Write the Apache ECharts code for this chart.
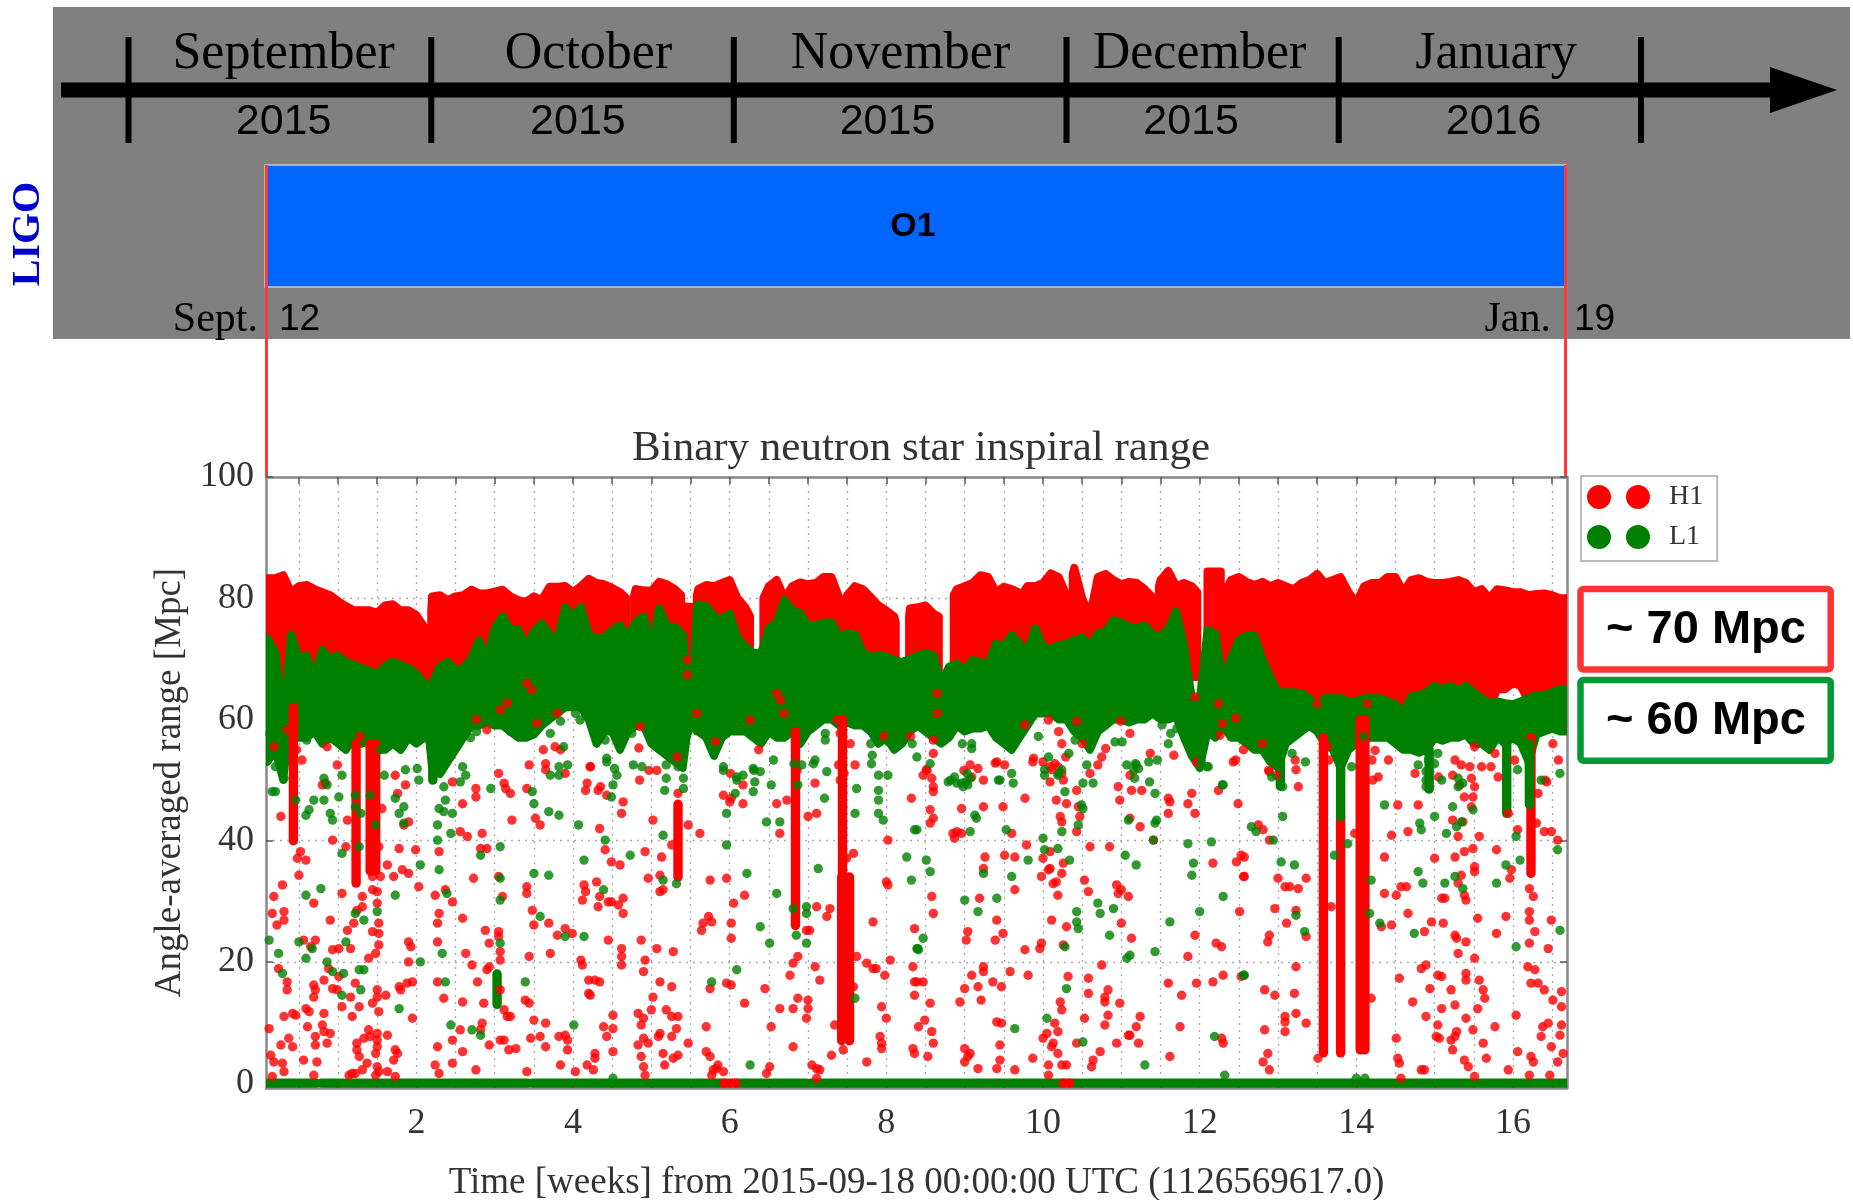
<!DOCTYPE html>
<html><head><meta charset="utf-8">
<script src="https://cdn.jsdelivr.net/npm/echarts@6/dist/echarts.min.js"></script>
<style>html,body{margin:0;padding:0;background:#fff}#chart{width:1853px;height:1200px}</style>
</head><body><div id="chart"></div>
<script>
// ---------------- data ----------------
const X_MIN = 0.08, X_MAX = 16.69, Y_MIN = -0.8, Y_MAX = 100;
const X_LABELS = [2, 4, 6, 8, 10, 12, 14, 16];
const X_TICKS = [0.5,1,1.5,2,2.5,3,3.5,4,4.5,5,5.5,6,6.5,7,7.5,8,8.5,9,9.5,10,10.5,11,11.5,12,12.5,13,13.5,14,14.5,15,15.5,16,16.5];
const Y_TICKS = [0, 20, 40, 60, 80, 100];
const MONTHS = ['September', 'October', 'November', 'December', 'January'];
const YEARS = ['2015', '2015', '2015', '2015', '2016'];

// dense band of H1 points: [week, lower Mpc, upper Mpc]; null = break
const H1_BAND = [
[0.08,66,83.0],[0.1,66,83.3],[0.2,62,83.3],[0.3,58,83.8],[0.4,62,81.0],[0.5,66,82.0],[0.6,66,82.2],[0.7,65,81.5],[0.8,66,81.0],[0.9,66,80.5],[1.0,66,79.5],[1.1,66,78.7],[1.2,66,78.0],[1.3,66,78.0],[1.4,66,78.0],[1.5,66,77.6],[1.6,66,78.8],[1.7,66,79.0],[1.8,66,78.0],[1.9,66,78.0],[2.0,66,77.2],[2.1,66,75.3],[2.13,67,73],
null,
[2.19,66,78],[2.2,66,80.3],[2.3,66,80.5],[2.4,66,79.7],[2.5,66,80.3],[2.6,66,80.5],[2.7,67,81.4],[2.8,67,80.8],[2.9,67,80.8],[3.0,67,81.1],[3.1,68,81.4],[3.2,68,80.3],[3.3,68,79.7],[3.4,67,79.4],[3.5,68,80.3],[3.6,68,79.7],[3.7,68,81.9],[3.8,68,81.9],[3.9,68,82],[4.0,68,81],[4.1,68,82],[4.2,68,83.2],[4.3,67,82.5],[4.4,67,82.3],[4.5,67,81.7],[4.6,67,81.0],[4.68,67,80],
null,
[4.78,67,80.5],[4.8,67,81.5],[4.9,67,81.3],[5.0,67,81.2],[5.1,67,82.7],[5.2,67,82.3],[5.3,67,81.5],[5.38,67,80.5],
null,
[5.43,67,78.6],[5.51,67,78.6],
null,
[5.58,66,80.5],[5.6,66,81.5],[5.7,66,82.2],[5.8,66,82.0],[5.9,66,82.5],[6.0,66,83.0],[6.1,66,80.0],[6.2,66,78.5],[6.26,68,77],
null,
[6.43,68,80],[6.5,67,82],[6.6,67,83],[6.7,67,80],[6.8,67,82],[6.9,67,82.6],[7.0,67,82.3],[7.1,67,82.5],[7.2,67,83.5],[7.3,67,83.5],[7.4,67,80],[7.47,67,78],[7.5,67,80.5],[7.6,67,82],[7.7,67,81.5],[7.8,67,80.2],[7.9,67,78.8],[8.0,67,78],[8.1,67,77],[8.12,67,76],
null,
[8.29,68,77],[8.3,68,78.3],[8.4,68,78.5],[8.5,68,78.8],[8.6,68,77.5],[8.67,68,77],
null,
[8.86,67,80.5],[8.9,67,81.5],[9.0,67,82],[9.1,67,82.5],[9.2,67,83.8],[9.3,67,83.5],[9.4,67,81],[9.5,67,81.9],[9.6,67,81.5],[9.68,67,81],
null,
[9.75,67,81],[9.8,67,82],[9.9,67,82],[10.0,67,82.5],[10.1,67,84.1],[10.2,67,83.5],[10.3,67,80.5],[10.34,67,80],
null,
[10.38,67,84],[10.4,67,85],[10.5,67,80],[10.6,67,77],[10.7,67,83.5],[10.8,67,84],[10.9,67,83],[11.0,67,82.3],[11.1,67,82.7],[11.2,67,82.5],[11.3,67,81.5],[11.41,67,80],
null,
[11.48,67,82],[11.5,67,83],[11.6,67,84.5],[11.7,67,82],[11.8,67,82.5],[11.9,67,82],[11.97,67,81],
null,
[12.1,67,84.4],[12.27,67,84.4],
null,
[12.36,66,82],[12.4,66,83],[12.5,66,83.5],[12.6,66,82.7],[12.7,66,82.2],[12.8,66,82.7],[12.9,65,82],[13.0,64,82.5],[13.1,64,82],[13.2,64,81.5],[13.3,63,82.5],[13.4,62,83],[13.5,61,84],[13.6,62.5,82.5],[13.7,62,83],[13.8,62,83.5],[13.9,62,81],[13.96,62,80],
null,
[14.03,62,80],[14.1,62,82],[14.2,61.5,82.5],[14.3,62,82.5],[14.4,63,83.5],[14.5,62,83.5],[14.6,61,81],[14.7,64,83],[14.8,65,83.3],[14.9,65,82.7],[15.0,64.5,82.5],[15.1,64,82.5],[15.2,65,82.7],[15.3,66,83],[15.4,65,82.5],[15.5,64,81],[15.6,63,81.5],[15.7,62,80],[15.8,65,81.5],[15.9,65,81.3],[16.0,66,81],[16.1,65.5,81],[16.2,63,80.5],[16.3,62,80.7],[16.4,63,80.8],[16.5,64,80.5],[16.6,64,80],[16.69,64,80]
];

// dense band of L1 points: [week, lower Mpc, upper Mpc]
const L1_BAND = [
[0.08,53,73.5],[0.1,53,73.3],[0.2,55,71],[0.3,50,60],[0.4,62,74.0],[0.5,57,70],[0.6,57,70.5],[0.7,58,67],[0.8,56,71.5],[0.9,57,70],[1.0,56,70.5],[1.1,55,69.5],[1.2,57,69],[1.3,56,68.5],[1.4,56.5,68],[1.5,55,67.5],[1.6,55,68.8],[1.7,56,69.5],[1.8,55,69],[1.9,57,68.5],[2.0,56,67.5],[2.1,57,66],[2.14,58,64],[2.17,56,61],
[2.2,52,66],[2.3,51,68.7],[2.4,53,69.5],[2.5,55,68],[2.6,57,68.5],[2.7,59,70],[2.8,59,73],[2.9,59.5,70],[3.0,59,75],[3.1,59,77],[3.2,58,74.7],[3.3,57,74.8],[3.4,57,72],[3.5,57.5,74.5],[3.6,59,75.8],[3.7,60,74],[3.8,61,73],[3.9,62,78.5],[4.0,62,77],[4.1,62,78.5],[4.2,60,74],[4.3,56,73.3],[4.4,58,73.6],[4.5,58,74.7],[4.6,55,75.5],[4.7,58,73.5],[4.8,59,76],[4.9,59,77],[5.0,56,72],[5.1,55,78.3],[5.2,54,75.3],[5.3,53,75.3],[5.4,52,74],[5.45,57,68],[5.52,60,64],[5.58,58,78],[5.6,58,79],[5.7,57,78.7],[5.8,54,77],[5.9,57,76.5],[6.0,58,77.5],[6.1,58,73.5],[6.2,58,72],[6.3,57,71],[6.4,56,70.9],[6.5,58,75],[6.6,57,76],[6.7,57,79.7],[6.8,58,78],[6.9,56,77.5],[7.0,58,75.5],[7.1,59,75.5],[7.2,60,76],[7.3,60,76],[7.4,59,73.6],[7.5,59.5,74.2],[7.6,59,74],[7.7,59,71],[7.8,58,70.4],[7.9,56,70.5],[8.0,57,70.4],[8.1,55,69.8],[8.2,56,69.5],[8.3,58,70],[8.4,59,70.5],[8.5,58,71],[8.6,57,70.5],[8.7,56,66],[8.8,57,68.7],[8.9,59,69.2],[9.0,58,68],[9.1,58.5,69.8],[9.2,58.5,69.5],[9.3,59,69],[9.4,57,72.5],[9.5,56,72],[9.6,55,73.9],[9.7,57,72.5],[9.8,59,71],[9.9,61,75],[10.0,61,72],[10.1,61,71.5],[10.2,60,72.3],[10.3,60,72.5],[10.4,58,73.1],[10.5,57,73.5],[10.6,55,72],[10.7,58,74.2],[10.8,59,74.5],[10.9,60,76.4],[11.0,60,76],[11.1,59.5,75.3],[11.2,60,75],[11.3,60,75.5],[11.4,61,74],[11.5,60,73.6],[11.6,60,75],[11.7,60.5,77.8],[11.8,57,72.3],[11.9,54,63.5],[12.0,52,63],[12.1,58,74.7],[12.2,57,74.2],[12.3,59,66],[12.4,57,70],[12.5,57,73.1],[12.6,56,73.8],[12.7,55,73.8],[12.8,55,70],[12.9,53,67],[13.0,52,64.5],[13.1,56,64.5],[13.2,57,64.5],[13.3,58,64.3],[13.4,59,63.5],[13.5,58,62],[13.6,56,63.5],[13.7,55,63.5],[13.8,52,63.5],[13.9,55,63],[14.0,56,63],[14.1,57,63.5],[14.2,57,63.5],[14.3,57,63.5],[14.4,57,63],[14.5,56,62.5],[14.6,55,61],[14.7,55,63.8],[14.8,54.5,64],[14.9,55,64.5],[15.0,57,65.5],[15.1,56.5,65],[15.2,57,65.5],[15.3,57,64.8],[15.4,57.5,65.5],[15.5,56,64.5],[15.6,56,63.5],[15.7,55,62.7],[15.8,57,63],[15.9,56,62.7],[16.0,57,62.5],[16.1,56,63],[16.2,53,63.5],[16.3,57.5,64],[16.4,58,64],[16.5,58.5,64.5],[16.6,58,65],[16.69,58,65]
];

// vertical streaks of points: [week, lower Mpc, upper Mpc]
const H1_STREAKS = [[0.43,40,62],[1.23,33,56],[1.41,35,56],[1.48,35,56],[5.34,34,46],[6.84,26,58],[7.44,34,60],[7.43,7,34],[7.53,7,34],[13.58,5,57],[13.80,5,44],[14.05,5.5,60],[14.11,5.5,60],[16.23,34.6,57]];
const L1_STREAKS = [[13.80,44,56],[15.92,44.5,56],[16.21,46,56],[13.03,49,55],[2.21,50,55],[3.03,13,18],[14.93,48.5,55]];

// runs of points sitting at zero range: [from week, to week, Mpc]
const L1_ZERO = [[0.08,0.72,0],[0.79,3.42,0],[3.48,5.93,0],[6.08,6.98,0],[7.04,10.26,0],[10.34,10.53,0],[10.57,16.69,0]];
const H1_ZERO = [[5.93,6.08,0],[10.26,10.34,0]];

// isolated H1 points [week, Mpc]
const H1_DOTS = [
[0.54,53.3],[0.99,52.5],[1.73,50.8],[1.86,49.2],[1.76,47.8],[1.56,45.3],[1.84,42.6],[1.90,43.1],[1.99,38.5],[1.78,38.7],[1.52,39],[2.46,49.7],[2.59,46.1],[2.76,48.6],[2.76,47.2],[2.84,41.2],[2.56,41.5],[2.65,40.7],[2.82,38.7],[2.90,38.7],[3.05,51.1],[3.12,49.5],[3.14,48.6],[3.20,47.8],[3.22,43.4],[3.41,48.6],[3.44,52.5],[3.52,43.7],[3.58,42.6],[3.65,52.7],[3.65,51.7],[4.16,48.3],[4.18,49.5],[0.80,49.2],[0.84,49.5],[0.27,44],[0.48,37.1],[0.52,38.2],[0.59,36.8],[0.93,40.1],[1.12,43.4],[1.10,39],
[0.18,30.8],[0.29,32.7],[0.16,28],[0.22,26.1],[0.31,28.3],[0.31,26.9],[0.5,34.3],[0.69,29.7],[0.56,23.6],[0.71,23.6],[0.65,22.5],[0.90,26.9],[0.93,22],[1.05,31.3],[1.01,22.2],[1.16,22.2],[1.12,25.2],[1.20,26.4],[1.31,30.8],[1.24,28.5],[1.31,29.1],[1.44,34.1],[1.44,31.9],[1.44,25],[1.50,31.6],[1.50,29.7],[1.52,26.4],[1.52,24.7],[1.52,22.8],[1.48,21.4],[1.39,20.6],[1.54,34.1],[1.63,36],[1.71,34.1],[1.82,35.2],[1.90,34.6],[2.03,32.4],[1.90,23.3],[1.93,22.5],[1.90,20],[2.24,31],[2.29,28],[2.27,26.4],[2.27,23.3],[2.29,38.2],[2.37,31.9],[2.46,29.9],[2.59,27.2],[2.73,33.8],[2.88,25.2],[2.93,23.1],[3.05,25],[3.05,24.2],[3.07,21.7],[3.07,20.3],[3.05,34.1],[3.10,30.8],[3.41,32.4],[3.41,31.3],[3.48,28.5],[3.50,26.1],[3.69,26.4],[3.80,24.4],[3.90,25.5],[3.99,24.7],[4.14,32.7],[4.16,31.6],[4.12,30.2],[4.10,20.3],[4.12,19.5],[3.44,20.9],[3.71,21.4],[2.63,21.4],[2.93,19.2],[2.90,18.7],[2.71,19.5],
[0.24,18.9],[0.35,16.7],[0.35,15.4],[0.69,16.2],[0.71,15.4],[0.69,14.2],[0.59,12.3],[0.63,11.8],[0.31,11],[0.42,11.5],[0.46,11.2],[0.12,9],[0.61,9.3],[0.80,9.6],[0.82,11.5],[0.71,7.7],[0.71,6.3],[0.82,8.5],[0.90,8.2],[0.86,6.6],[0.37,7.4],[0.42,6],[0.27,6.3],[0.14,4.6],[0.18,3.5],[0.29,3.3],[0.31,1.9],[0.56,3.8],[0.73,3.5],[0.69,1.3],[0.16,1.1],[0.82,17],[0.88,18.9],[1.01,17.6],[0.93,15.6],[0.99,15.4],[1.16,14.2],[1.05,12.6],[1.27,12.6],[1.18,11],[1.22,16.5],[1.44,13.2],[1.50,15.4],[1.50,14.2],[1.61,14.5],[1.52,11.8],[1.33,7.4],[1.39,8.8],[1.41,7.7],[1.50,8.2],[1.50,7.1],[1.50,6],[1.48,4.9],[1.50,2.7],[1.48,1.3],[1.24,6.6],[1.24,5.5],[1.27,4.4],[1.37,3.3],[1.31,2.2],[1.22,1.6],[1.52,1.9],[1.63,7.9],[1.73,5.5],[1.76,4.9],[1.71,3.8],[1.63,1.9],[1.73,1.1],[1.14,1.3],[1.18,1.6],[1.78,15.9],[1.80,15.4],[1.88,16.5],[1.95,16.7],[1.95,10.7],[2.27,16.7],[2.35,14],[2.27,6],[2.24,3],[2.46,7.1],[2.46,3.3],[2.29,1.6],[2.59,13.4],[2.56,8.8],[2.59,5.2],[2.78,16.7],[2.86,13.2],[2.84,9.9],[2.82,8.8],[2.76,2.2],[2.93,6.3],[3.07,7.1],[3.12,7.1],[3.18,5.5],[3.27,5.7],[3.16,11],[3.20,11],[3.12,12.1],[3.07,15.4],[3.39,13.7],[3.44,13.2],[3.50,10.4],[3.65,9.9],[3.46,7.4],[3.58,7.7],[3.65,6],[3.82,7.7],[3.90,7.9],[3.93,7.1],[3.93,5.5],[3.84,3],[4.03,1.9],[4.18,3],[3.41,1.9],[4.20,17],[4.20,14.8],
[4.22,52.2],[4.32,48.3],[4.43,47.5],[4.64,46.4],[4.62,44.5],[4.34,42],[4.41,38.5],[4.49,36.5],[4.60,36],[4.85,50],[5.02,43.4],[4.92,38.2],[5.13,37.3],[4.96,33.8],[5.11,34.3],[5.11,31.6],[5.15,31.9],[5.26,39.3],[5.34,47.8],[5.47,42.6],[5.62,41.2],[4.30,33.2],[4.34,30.8],[4.32,29.1],[4.45,29.9],[4.49,29.9],[4.58,29.4],[4.64,30.5],[4.64,28],[4.45,23.6],[4.62,22.2],[4.62,20.9],[4.62,19.5],[4.87,23.6],[4.92,20.3],[4.90,18.4],[5.07,22.2],[5.28,21.7],[4.28,17],[4.34,16.7],[4.22,14.5],[5.11,16.7],[5.26,15.9],[5.02,14.2],[5.00,12.1],[5.19,12.1],[5.26,11],[5.34,11],[4.83,11.5],[4.90,10.7],[4.87,9.6],[4.90,7.4],[4.51,11.2],[4.51,9],[4.39,9.3],[4.43,7.7],[4.83,6.3],[4.96,6.6],[5.11,8.2],[5.09,7.7],[5.26,7.7],[5.32,9],[5.47,6.6],[4.87,4.4],[4.90,2.7],[4.92,1.3],[5.15,4.9],[5.17,3],[5.28,4.1],[5.34,4.6],[4.28,4.9],[4.28,4.1],[4.26,2.2],[4.51,5.2],[5.70,9.3],[5.70,5.2],[5.75,4.4],[5.79,2.2],[5.85,3],[5.83,2.4],[5.77,1.3],[5.92,1.9],[5.75,15.6],[5.73,27.5],[5.66,26.4],[5.64,25.2],[5.77,26.6],[5.75,33.5],[5.96,33.8],[5.92,47.5],[6.02,47],[6.00,46.4],[6.17,46.1],[6.17,49.2],[6.19,31],[6.05,29.7],[6.02,26.4],[6.02,23.9],[5.96,16.5],[6.02,16.2],[6.19,13.2],[6.45,15.6],[6.53,9.3],[6.60,46.1],[6.64,41.2],[6.73,46.7],[6.51,2.7],[6.47,1.6],[6.64,12.3],[6.81,12.3],[6.77,17.8],[6.81,19.8],[6.87,20.9],[6.87,14],[7.00,12.3],[6.98,10.7],[6.98,25.2],[7.02,25.2],[7.00,13.7],[7.09,19.2],[7.15,17],[7.00,44],[7.11,44.5],[7.09,49.5],[7.11,29.1],[7.24,27.5],[7.28,28.8],[7.34,9.6],[7.30,4.6],[7.45,5.5],[6.81,6],[7.05,3],[7.11,2.4],[7.15,2.2],[7.11,0.8],[7.58,37.9],[7.49,37.1],[7.62,20.9],[7.58,15.9],[7.75,19.8],[7.83,18.9],[7.87,18.9],[7.98,17.8],[7.83,26.6],[8.00,33.2],[8.02,32.7],[8.02,40.1],[8.05,20.3],[7.94,12.6],[8.00,10.7],[7.92,7.7],[7.94,6.6],[7.94,5.7],[7.75,3.5],[8.32,47],[8.36,25.5],[8.34,19.2],[8.36,16.7],[8.36,14.5],[8.34,5.7],[8.36,4.9],[7.60,52.5],[7.41,50],[7.39,52.5],
[8.47,50.8],[8.51,51.7],[8.58,50.3],[8.60,48.9],[8.60,48.1],[8.56,45.1],[8.60,43.7],[8.56,42.9],[8.85,41.2],[8.90,41.5],[8.96,41.2],[8.87,40.4],[8.96,45.3],[9.07,52.5],[9.17,51.9],[9.09,50.5],[9.24,50],[9.24,45.6],[9.41,53],[9.51,52.5],[9.49,45.6],[9.60,41.2],[9.77,47],[9.87,53],[10.0,53],[10.09,52.2],[10.15,52.7],[10.19,52.2],[10.24,51.1],[10.26,50],[10.11,51.7],[10.09,49.7],[10.17,46.7],[10.30,46.1],[10.43,48.3],[10.45,45.6],[10.47,44],[10.43,41.5],[10.22,44],[10.24,43.1],[10.60,51.1],[10.70,52.5],[10.96,48.9],[10.98,46.7],[11.11,50.8],[11.13,48.3],[11.26,48.3],[11.11,43.7],[11.24,42.3],[11.60,47],[11.62,46.4],[11.60,44.5],[11.90,47.8],[11.85,46.1],[11.94,44.5],[11.96,53],[12.24,48.3],[12.49,46.1],[12.43,53],[11.41,40.1],[10.60,39],[10.85,39],[9.26,37.3],[9.24,35.4],[9.51,37.6],[9.64,37.3],[9.79,39.3],[10.0,37.1],[10.09,38.2],[10.26,36.3],[10.09,35.4],[10.07,35.2],[9.98,34.1],[10.24,34.6],[10.13,32.9],[10.17,33.2],[10.19,31],[10.53,33.5],[10.58,31.6],[10.94,32.7],[10.96,31.3],[11.0,31.9],[11.09,30.8],[12.17,36.3],[12.47,36.5],[12.53,37.6],[12.56,34.1],[8.58,30.8],[8.60,28],[9.19,30.5],[9.41,26.9],[9.49,24.7],[9.39,23.6],[9.04,25],[9.02,23.6],[9.64,31.9],[10.11,26.9],[10.30,25.8],[9.77,22],[9.96,22.2],[9.98,23.1],[10.26,22.8],[11.13,23.9],[11.0,26.4],[11.94,24.4],[11.85,20.9],[12.21,23.1],[12.28,22.5],[12.51,28.3],[10.75,19.5],[9.24,19.2],[9.24,18.4],[9.09,17.8],[9.36,16.7],[9.47,15.9],[9.58,18.4],[9.81,17.8],[9.0,15.6],[9.17,15.9],[9.21,13.7],[8.94,13.4],[8.47,16.7],[8.39,16.7],[8.56,13.2],[8.49,10.4],[8.41,9.3],[8.58,8.5],[8.60,6.6],[8.53,4.4],[9.0,5.7],[9.07,4.9],[9.04,4.4],[9.0,3.5],[9.17,2.4],[9.41,10.1],[9.47,9.9],[9.45,6.3],[9.45,3.8],[9.41,2.4],[9.64,2.2],[9.87,4.1],[10.32,17.6],[10.58,17.3],[10.83,15.4],[10.58,14.8],[10.79,14.2],[10.79,13.4],[10.22,13.4],[10.24,12.1],[10.53,10.7],[10.83,11.2],[10.79,9.6],[10.15,9.9],[10.19,8.5],[10.05,8.2],[10.0,7.4],[10.13,6.6],[10.11,6],[10.19,4.9],[10.43,6.6],[10.07,3],[10.24,3],[10.30,3],[10.07,1.3],[10.73,5.2],[10.64,3.8],[10.62,2.7],[10.94,6.6],[10.98,13.2],[11.09,7.9],[11.11,7.9],[11.22,6.6],[11.19,9.3],[11.24,11],[11.60,16.5],[11.77,14.5],[11.75,9.3],[11.96,16.5],[12.17,16.7],[12.30,17.8],[12.28,7.4],[12.30,6.6],[11.62,4.4],[12.53,17.6],
[12.89,51.4],[12.98,50.8],[13.23,51.7],[13.26,48.9],[12.75,42.6],[12.81,41.8],[12.89,40.1],[12.57,37.3],[12.57,34.1],[13.0,33.8],[13.09,32.4],[13.15,32.4],[13.26,32.1],[13.36,33.8],[12.96,28.8],[13.23,28.5],[13.11,26.4],[12.89,24.4],[12.87,23.3],[13.36,24.2],[13.23,19.2],[12.83,15.4],[12.96,14.5],[13.21,14.8],[13.23,11.5],[13.09,11],[13.09,10.1],[13.36,9.9],[13.09,8.5],[12.83,8.8],[12.87,4.9],[12.81,3.5],[12.89,2.2],[13.51,4.1],[13.68,29.1],[13.98,41.2],[14.21,50],[14.36,37.3],[14.45,40.9],[14.53,45.9],[14.79,45.9],[14.66,41.5],[14.57,32.4],[14.64,32.4],[14.51,31],[14.36,31.3],[14.45,26.1],[14.32,25.8],[14.66,28],[14.87,25],[14.96,26.6],[15.11,26.4],[15.0,37.1],[15.13,30.5],[15.26,37.3],[15.30,40.7],[15.23,43.4],[15.36,43.1],[15.38,47.2],[15.49,47.2],[15.51,48.9],[15.47,45.6],[15.32,49.2],[15.47,50.3],[15.23,50.8],[15.34,52.5],[15.45,52.2],[15.60,52.2],[15.57,40.7],[15.38,38.2],[15.49,38.7],[15.51,35.7],[15.51,34.9],[15.34,34.3],[15.30,33],[15.38,31],[15.40,30.2],[15.09,30.5],[15.72,52.2],[15.79,38.5],[15.94,44.5],[15.98,35.2],[15.96,33.8],[16.06,41.8],[16.30,42.9],[16.32,47.8],[16.40,41.5],[16.49,41.5],[16.43,49.7],[16.57,40.1],[16.21,32.1],[16.26,30.8],[16.21,28.3],[16.21,26.9],[16.28,25],[16.21,23.1],[16.45,22.2],[16.49,26.9],[15.55,27.2],[15.26,24.4],[15.28,23.9],[15.40,23.3],[15.30,21.4],[15.51,20.6],[15.79,24.7],[15.91,27.5],[14.89,19.5],[14.83,18.9],[15.04,17.8],[15.09,17.6],[14.94,15.6],[14.55,17.3],[15.21,15.4],[15.40,18.1],[15.40,17],[15.57,17],[15.62,15.4],[15.64,14],[15.55,12.3],[15.26,12.9],[15.09,12.3],[14.89,11],[15.04,9.6],[15.02,7.7],[15.06,7.4],[15.26,7.7],[15.28,8.5],[15.23,5.5],[15.21,7.1],[15.40,10.7],[15.49,8.8],[15.62,6.6],[15.66,4.1],[15.38,3.8],[15.43,2.7],[15.51,1.1],[14.87,2.2],[14.83,2.2],[14.51,7.4],[14.53,4.1],[14.55,3.3],[14.57,0.8],[14.72,13.4],[14.19,14],[15.77,9.3],[15.94,2.2],[16.04,11.2],[16.06,5.2],[16.19,19.2],[16.28,18.7],[16.23,16.5],[16.32,16.5],[16.40,15.4],[16.51,13.7],[16.62,15.1],[16.62,12.6],[16.45,9.9],[16.38,9.3],[16.36,7.7],[16.49,6],[16.60,7.9],[16.62,9.6],[16.64,4.9],[16.57,3.5],[16.47,1.3],[16.21,1.3],[16.23,4.4],[16.26,3.5],
[0.18,55.5],[0.35,58.3],[0.47,55],[0.86,55.5],[1.28,57.2],[1.45,55.5],[2.77,60],[2.9,58.3],[3.07,61.6],[3.16,62.7],[3.41,66],[3.47,64.9],[3.54,59.4],[3.62,55],[3.8,61],[3.84,55],
[3.77,55.5],[3.90,51.1],[4.22,52.2],[4.35,48.9],[4.86,58.8],[4.84,55.3],[4.97,51.6],[5.07,51.6],[5.33,53.8],[5.46,69.8],[5.46,67.4],[5.58,61],[5.82,56.3],[6.01,51.1],[6.26,59.9],[6.37,55],[6.60,64.3],[6.65,63.2],[6.69,61],[6.84,56.6],[6.84,53.9],[6.86,51.6],[7.37,59.9],[7.41,57.7],[7.54,56],[7.46,51.1],[7.97,57.2],[8.31,57.2],[8.52,51.6],[8.60,56.6],[8.60,54.4],[8.65,61],[8.65,64.3],[8.99,51.6],
[9.39,52.8],[9.77,59.1],[9.88,53.6],[10.07,59.9],[10.2,58],[10.24,56],[10.29,53.8],[10.43,59.7],[10.5,56],[10.8,55.2],[10.75,53.8],[10.99,59.7],[11.11,57.7],[11.37,54.4],[11.67,54.1],[11.94,63.7],[11.94,68.4],[12.24,62.6],[12.29,59.3],[12.26,57.4],[12.46,60.2],[12.56,55],[12.46,53.3],[12.8,56],[12.88,51.6],[13.22,53.3],[13.26,69],[13.26,67],[13.5,62.6],[13.63,55.5],[13.65,53.3],[14.0,65.4],[14.11,67.6],[14.14,62.6],[14.2,53.3],
[14.41,53.3],[14.75,51.1],[15.05,50.5],[15.26,53.3],[15.51,55.5],[15.77,54.4],[15.81,50.5],[16.02,53.3],[16.41,50],[16.58,53.3],[16.51,56],[14.28,50.5],[14.24,54.9]
];

// isolated L1 points [week, Mpc]
const L1_DOTS = [
[0.20,52.2],[0.31,50.3],[0.16,48.1],[0.20,48.1],[0.46,46.7],[0.59,44.2],[0.63,45.1],[0.69,46.7],[0.82,46.7],[0.82,50.3],[0.86,49.2],[0.90,44.5],[0.93,43.4],[1.05,50.8],[1.01,47.2],[1.22,47.5],[1.22,45.6],[1.29,44.5],[1.41,47.5],[1.48,42.6],[1.27,39],[1.05,37.9],[1.59,50.8],[1.73,47],[1.78,44.5],[1.84,42.9],[1.84,45.6],[1.86,51.7],[2.03,50],[2.01,51.9],[2.29,45.3],[2.35,44.8],[2.37,46.7],[2.27,42.6],[2.27,40.1],[2.29,35.2],[2.46,44.5],[2.44,41.2],[2.35,48.9],[2.59,52.2],[2.63,50.8],[2.56,49.7],[2.82,37.6],[2.95,48.6],[3.07,39],[3.07,33.8],[3.48,48.1],[3.50,46.1],[3.69,44.8],[3.82,44.2],[3.71,50.8],[3.82,50.8],[3.93,52.5],[4.07,42.6],[4.14,36.8],[3.50,34.6],[3.69,34.3],[1.73,31],[2.05,36],[2.39,31.3],[3.07,30.2],[3.58,27.5],[3.90,24.2],[4.14,24.2],[0.12,23.6],[0.24,21.4],[0.5,23.3],[0.67,22.2],[0.59,20.6],[0.78,32.1],[0.59,31],[0.86,20],[0.93,18.4],[1.07,18.1],[1.10,23.3],[1.27,18.7],[1.33,18.7],[1.33,26.9],[1.22,28],[1.50,28.3],[2.33,21.4],[2.05,20],[2.37,16.7],[3.07,23.1],[3.39,16.7],[2.44,9.6],[2.71,8.8],[2.82,7.9],[4.01,9.6],[1.78,12.3],[1.05,14.5],[1.29,15.4],[0.29,18.1],
[4.43,53],[4.56,50.8],[4.51,49.2],[4.49,47.2],[4.53,51.9],[4.77,52.5],[4.88,52.2],[5.19,52.5],[5.19,50.3],[5.17,48.3],[5.34,52.2],[5.41,50.3],[5.41,48.6],[5.92,52.2],[6.09,50.5],[6.17,50.8],[6.30,51.9],[6.39,51.4],[6.32,49.7],[6.30,48.1],[6.07,47.8],[5.96,44.5],[6.53,49.2],[6.47,43.1],[6.64,43.1],[6.87,49.2],[6.92,52.5],[7.07,52.7],[7.24,51.4],[7.21,47],[7.62,48.6],[7.60,44.5],[7.81,52.7],[7.90,50.8],[7.90,48.3],[7.90,46.7],[7.90,44.5],[7.96,43.4],[8.02,50.8],[8.36,41.8],[4.41,40.1],[4.73,37.6],[5.15,40.9],[5.32,32.9],[5.15,33.5],[5.96,39.3],[6.22,34.6],[6.60,31.3],[4.39,31.9],[6.81,28.8],[6.98,29.1],[6.98,28],[6.98,23.1],[6.85,24.4],[6.39,25.8],[6.51,23.1],[6.09,18.7],[5.77,16.7],[7.13,35.4],[8.26,37.3],[8.32,33.5],[8.40,22.2],[7.60,14],[6.26,3],[4.51,0.8],
[8.56,52.7],[8.79,49.7],[8.87,50.5],[8.90,49.5],[8.96,49.5],[8.98,48.9],[9.02,49.7],[9.04,49.2],[9.07,50.3],[9.45,50],[9.62,49.5],[10.02,50.8],[10.02,51.7],[10.19,50.8],[10.24,51.7],[10.28,48.1],[10.51,49.5],[10.56,52.5],[10.64,49.5],[10.49,45.9],[10.51,45.3],[10.45,42.6],[10.24,41.5],[9.13,44.2],[9.15,43.7],[9.07,41.5],[9.53,41.8],[10.0,40.4],[10.02,38.5],[10.19,38.7],[10.34,36.8],[11.07,52.5],[11.19,52.5],[11.22,51.9],[11.17,50.3],[11.36,49.7],[11.43,47.8],[11.45,43.4],[11.43,42.9],[11.09,43.4],[11.41,40.1],[11.85,39.5],[12.15,39.8],[11.92,36.3],[11.90,34.3],[12.30,49.2],[12.02,53],[12.11,52.2],[8.51,36.8],[8.56,34.9],[9.24,34.6],[9.60,34.1],[9.81,36.8],[11.05,37.6],[11.19,36],[8.39,41.8],[9.0,30.2],[9.17,28.3],[9.41,30.5],[10.70,29.7],[10.90,28.8],[10.73,28],[10.43,28.3],[10.43,26.6],[10.45,25.5],[10.85,24.4],[11.62,26.6],[12.0,28.3],[12.30,30.8],[8.47,23.9],[8.39,22.2],[8.41,22],[10.28,22.5],[11.11,21.1],[11.07,20.6],[11.43,21.7],[10.30,15.6],[10.05,10.7],[9.64,9],[10.51,6.8],[12.19,7.7],[11.30,3],[12.32,1.3],[12.56,17.8],
[12.92,50.5],[13.06,48.9],[12.66,42.3],[12.72,41.5],[12.94,40.1],[13.06,44],[13.04,36.5],[13.21,36],[13.23,27.7],[13.34,25],[13.72,37.6],[13.89,39.5],[14.19,33.5],[14.17,28],[14.30,26.4],[14.36,45.9],[14.74,24.7],[14.79,34.9],[14.85,33],[14.81,42.9],[14.83,41.8],[14.79,52.5],[14.89,51.4],[14.89,50],[14.89,48.9],[15.0,52.7],[15.09,50],[15.0,44],[15.15,41.2],[15.28,42.3],[15.34,43.1],[15.23,45.6],[15.49,45.1],[15.26,34.1],[15.36,32.1],[15.13,33],[15.79,33],[15.91,36],[16.04,40.7],[16.09,36.8],[16.04,22.5],[16.60,25.2],[16.57,38.5],[16.60,51.1],[16.06,51.7],[15.30,48.9],[15.36,49.5],[12.57,17.8],[14.11,0.8],[14.0,0.8],
[0.13,57.7],[0.6,56.6],[1.03,56.1],[1.54,55],[2.22,55],[2.69,57],[2.77,58],[3.2,58],[3.37,57.7],[3.67,59.9],
[3.71,57.7],[3.84,59.7],[3.88,55.5],[3.82,52.2],[4.03,61],[4.09,59.9],[4.41,56.6],[4.43,53.6],[4.75,57.7],[4.94,61],[5.80,55],[5.92,51.6],[6.09,50],[6.31,51.6],[6.56,53.3],[6.82,52.7],[7.09,53.3],[7.22,57.7],[7.22,56.6],[7.80,56],[7.82,54.1],[8.03,56.3],[8.33,56],[8.39,53.8],[8.82,50],[9.03,51.1],
[8.97,56],[9.09,56],[9.09,55.2],[9.46,57.7],[9.43,50],[9.6,51.1],[9.94,57.2],[10.07,53.8],[10.2,51.1],[10.33,54.4],[10.41,56.6],[10.54,61],[10.92,56.3],[11.01,56.3],[11.18,52.7],[11.16,51.6],[11.35,53],[11.46,53.3],[11.52,59.1],[11.63,57.7],[11.6,56],[11.71,58.5],[12.09,52.2],[12.29,49.2],[12.58,57.2],[12.65,57.4],[13.18,54.4],[13.35,53],[13.94,52.2],[14.09,57.2],
[14.66,55.5],[14.92,53.3],[15.3,50.3],[15.04,54.4],[16.36,50]
];

// ---------------- chart ----------------
const RED = '#ff0000', GREEN = '#008000';
const SERIF = "'Liberation Serif', 'DejaVu Serif', serif";
const SANS = "'Liberation Sans', Arial, sans-serif";
const ICON = 'path://M12,0A12,12 0 1 1 12,24A12,12 0 1 1 12,0Z M51,0A12,12 0 1 1 51,24A12,12 0 1 1 51,0Z';
const DOT = 9.4;

function splitRuns(arr) {
  const runs = []; let cur = [];
  arr.forEach(d => { if (d === null) { if (cur.length) runs.push(cur); cur = []; } else cur.push(d); });
  if (cur.length) runs.push(cur);
  return runs;
}
function bandSeries(name, arr, color) {
  const runs = splitRuns(arr);
  return {
    type: 'custom', name, clip: true, silent: true, itemStyle: { color },
    data: runs.map((r, i) => [r[0][0], r[0][2], i]), encode: { x: 0, y: 1 },
    renderItem: (params, api) => {
      const run = runs[api.value(2)];
      const pts = run.map(d => api.coord([d[0], d[2]]));
      for (let k = run.length - 1; k >= 0; k--) pts.push(api.coord([run[k][0], run[k][1]]));
      return { type: 'polygon', shape: { points: pts },
        style: { fill: color, stroke: color, lineWidth: 8, lineJoin: 'round' } };
    }
  };
}
function streakSeries(name, arr, color) {
  return {
    type: 'custom', name, clip: true, silent: true, itemStyle: { color },
    data: arr, encode: { x: 0, y: [1, 2] },
    renderItem: (params, api) => {
      const t = api.coord([api.value(0), api.value(2)]);
      const b = api.coord([api.value(0), api.value(1)]);
      return { type: 'rect', shape: { x: t[0] - DOT / 2, y: t[1] - DOT / 2, width: DOT, height: b[1] - t[1] + DOT, r: DOT / 2 },
        style: { fill: color } };
    }
  };
}
function zeroSeries(name, arr, color) {
  return {
    type: 'custom', name, clip: true, silent: true, itemStyle: { color },
    data: arr, encode: { x: [0, 1], y: 2 },
    renderItem: (params, api) => {
      const a = api.coord([api.value(0), api.value(2)]);
      const b = api.coord([api.value(1), api.value(2)]);
      return { type: 'rect', shape: { x: a[0] - DOT / 2, y: a[1] - DOT / 2, width: b[0] - a[0] + DOT, height: DOT, r: DOT / 2 },
        style: { fill: color } };
    }
  };
}
function txt(text, x, y, font, fill, align, extra) {
  return Object.assign({ type: 'text', x, y, silent: true,
    style: { text, x: 0, y: 0, font, fill, align: align || 'center', verticalAlign: 'middle',
             textAlign: align || 'center', textVerticalAlign: 'middle' } }, extra || {});
}

const MONTH_TICK_X = [128.5, 431.3, 733.8, 1066.5, 1338.7, 1641];
const MONTH_X = [283.6, 588.5, 900.5, 1199.5, 1496];
const YEAR_X = [283.6, 577.9, 887.5, 1191.2, 1493.7];

const graphics = [
  { type: 'rect', shape: { x: 53, y: 7, width: 1797, height: 332 }, style: { fill: '#808080' }, silent: true },
  { type: 'line', shape: { x1: 61, y1: 90, x2: 1780, y2: 90 }, style: { stroke: '#000', lineWidth: 15 }, silent: true },
  { type: 'polygon', shape: { points: [[1770, 67], [1837, 90], [1770, 113]] }, style: { fill: '#000' }, silent: true },
  { type: 'rect', shape: { x: 265, y: 165, width: 1301, height: 122 }, style: { fill: '#0066ff', stroke: '#c8c8d0', lineWidth: 1.5 }, silent: true },
  { type: 'line', shape: { x1: 266.5, y1: 165, x2: 266.5, y2: 477 }, style: { stroke: '#ff3838', lineWidth: 3 }, silent: true },
  { type: 'line', shape: { x1: 1565.5, y1: 165, x2: 1565.5, y2: 477 }, style: { stroke: '#ff3838', lineWidth: 3 }, silent: true },
  txt('O1', 913, 227, 'bold 34px ' + SANS, '#000'),
  txt('Sept.', 258, 320, '42px ' + SERIF, '#000', 'right'),
  txt('12', 279, 320, '37px ' + SANS, '#000', 'left'),
  txt('Jan.', 1551, 320, '42px ' + SERIF, '#000', 'right'),
  txt('19', 1574, 320, '37px ' + SANS, '#000', 'left'),
  txt('LIGO', 29, 234, 'bold 40px ' + SERIF, '#0000cc', 'center', { rotation: Math.PI / 2 }),
  { type: 'rect', shape: { x: 1580.5, y: 589, width: 250.2, height: 80.5, r: 3 }, style: { fill: '#fff', stroke: '#ff3333', lineWidth: 6.5 }, silent: true },
  { type: 'rect', shape: { x: 1580.5, y: 680, width: 250.2, height: 80.8, r: 3 }, style: { fill: '#fff', stroke: '#009933', lineWidth: 6.5 }, silent: true },
  txt('~ 70 Mpc', 1706, 630, 'bold 47px ' + SANS, '#000'),
  txt('~ 60 Mpc', 1706, 721, 'bold 47px ' + SANS, '#000')
];
MONTH_TICK_X.forEach(x => graphics.push({ type: 'line', shape: { x1: x, y1: 37, x2: x, y2: 143 }, style: { stroke: '#000', lineWidth: 6 }, silent: true }));
MONTHS.forEach((m, i) => graphics.push(txt(m, MONTH_X[i], 54, '52px ' + SERIF, '#000')));
YEARS.forEach((y, i) => graphics.push(txt(y, YEAR_X[i], 122, '43px ' + SANS, '#000')));

const axisLineStyle = { color: '#888', width: 2.5 };
const tickStyle = { color: '#555', width: 1.5 };

const option = {
  animation: false,
  backgroundColor: '#fff',
  title: {
    text: 'Binary neutron star inspiral range', left: 916, top: 422, textAlign: 'center',
    textStyle: { fontFamily: SERIF, fontSize: 43, fontWeight: 'normal', color: '#333' }
  },
  legend: {
    orient: 'vertical', left: 1581, top: 476, padding: [7, 14, 10, 6], itemGap: 12,
    itemWidth: 63, itemHeight: 24, backgroundColor: '#fff', borderColor: '#bbb', borderWidth: 2,
    formatter: n => '  ' + n,
    textStyle: { fontFamily: SERIF, fontSize: 28, color: '#333' },
    data: [{ name: 'H1', icon: ICON }, { name: 'L1', icon: ICON }]
  },
  grid: { left: 266, right: 286, top: 477, bottom: 112, outerBoundsMode: 'none', containLabel: false },
  xAxis: [{
    type: 'value', min: X_MIN, max: X_MAX, position: 'bottom',
    name: 'Time [weeks] from 2015-09-18 00:00:00 UTC (1126569617.0)',
    nameLocation: 'middle', nameGap: 77,
    nameTextStyle: { fontFamily: SERIF, fontSize: 37, color: '#333' },
    axisLine: { show: true, onZero: false, lineStyle: axisLineStyle },
    axisTick: { show: true, inside: true, length: 7, customValues: X_TICKS, lineStyle: tickStyle },
    axisLabel: { customValues: X_LABELS, fontFamily: SERIF, fontSize: 36, color: '#333', margin: 18 },
    splitLine: { show: true, lineStyle: { color: '#aaa', type: [2, 5], width: 1.3 } }
  }, {
    type: 'value', min: X_MIN, max: X_MAX, position: 'top',
    axisLine: { show: true, onZero: false, lineStyle: axisLineStyle },
    axisTick: { show: true, inside: true, length: 7, customValues: X_TICKS, lineStyle: tickStyle },
    axisLabel: { show: false }, splitLine: { show: false }
  }],
  yAxis: [{
    type: 'value', min: Y_MIN, max: Y_MAX, position: 'left',
    name: 'Angle-averaged range [Mpc]', nameLocation: 'middle', nameGap: 68,
    nameTextStyle: { fontFamily: SERIF, fontSize: 37, color: '#333' },
    axisLine: { show: true, onZero: false, lineStyle: axisLineStyle },
    axisTick: { show: true, inside: true, length: 7, customValues: Y_TICKS, lineStyle: tickStyle },
    axisLabel: { customValues: Y_TICKS, fontFamily: SERIF, fontSize: 36, color: '#333', margin: 12 },
    splitLine: { show: true, lineStyle: { color: '#aaa', type: [2, 5], width: 1.3 } }
  }, {
    type: 'value', min: Y_MIN, max: Y_MAX, position: 'right',
    axisLine: { show: true, onZero: false, lineStyle: axisLineStyle },
    axisTick: { show: true, inside: true, length: 7, customValues: Y_TICKS, lineStyle: tickStyle },
    axisLabel: { show: false }, splitLine: { show: false }
  }],
  series: [
    bandSeries('H1', H1_BAND, RED),
    bandSeries('L1', L1_BAND, GREEN),
    streakSeries('H1', H1_STREAKS, RED),
    { type: 'scatter', name: 'H1', data: H1_DOTS, symbolSize: DOT, itemStyle: { color: RED }, silent: true },
    streakSeries('L1', L1_STREAKS, GREEN),
    { type: 'scatter', name: 'L1', data: L1_DOTS, symbolSize: DOT, itemStyle: { color: GREEN }, silent: true },
    zeroSeries('L1', L1_ZERO, GREEN),
    zeroSeries('H1', H1_ZERO, RED)
  ],
  graphic: graphics
};

const chart = echarts.init(document.getElementById('chart'), null, { renderer: 'canvas' });
chart.setOption(option);
</script></body></html>
